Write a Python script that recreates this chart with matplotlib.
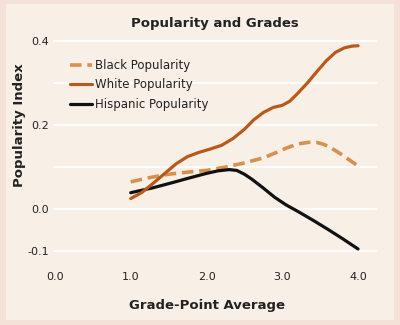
import matplotlib
matplotlib.use('Agg')
import matplotlib.pyplot as plt
from matplotlib.patches import Rectangle

# values
gpa_white = [1.0, 1.15, 1.3, 1.45, 1.6, 1.75, 1.9, 2.05, 2.2, 2.35, 2.5, 2.62,
             2.75, 2.88, 3.0, 3.1, 3.2, 3.33, 3.45, 3.58, 3.7, 3.82, 3.92, 4.0]
white_pop = [0.025, 0.04, 0.062, 0.085, 0.108, 0.125, 0.135, 0.143, 0.152, 0.168, 0.19, 0.212,
             0.23, 0.242, 0.247, 0.257, 0.275, 0.30, 0.326, 0.353, 0.373, 0.384, 0.388, 0.389]

gpa_black = [1.0, 1.25, 1.5, 1.75, 2.0, 2.25, 2.5, 2.75, 2.9, 3.05, 3.2, 3.35,
             3.45, 3.55, 3.65, 3.8, 3.9, 4.0]
black_pop = [0.065, 0.075, 0.083, 0.088, 0.092, 0.1, 0.11, 0.122, 0.133, 0.145, 0.155, 0.159,
             0.159, 0.154, 0.145, 0.128, 0.115, 0.103]

gpa_hisp = [1.0, 1.3, 1.55, 1.75, 2.0, 2.15, 2.3, 2.4, 2.5, 2.6, 2.75, 2.9,
            3.05, 3.2, 3.4, 3.6, 3.8, 4.0]
hisp_pop = [0.039, 0.051, 0.063, 0.073, 0.085, 0.091, 0.094, 0.092, 0.083, 0.071, 0.05, 0.028,
            0.01, -0.005, -0.026, -0.048, -0.071, -0.095]

x_ticks = [0.0, 1.0, 2.0, 3.0, 4.0]
y_grid = [-0.1, 0.0, 0.1, 0.2, 0.3, 0.4]
y_labels = ['-0.1', '0.0', '', '0.2', '', '0.4']

outer = '#f4e1d7'
inner = '#f8efe7'

plt.rcParams['font.family'] = 'DejaVu Sans'
fig = plt.figure(figsize=(4, 3.25), dpi=100)
fig.patch.set_facecolor(outer)
fig.patches.append(Rectangle((6 / 400, 1 - 320 / 325), 388 / 400, 316 / 325,
                             transform=fig.transFigure, facecolor=inner,
                             edgecolor='none', zorder=-5))

ax = fig.add_axes([53 / 400, 1 - 262 / 325, 324 / 400, 223 / 325])
ax.set_facecolor('none')
for y in y_grid:
    ax.axhline(y, color='white', lw=1.2, zorder=1)

ax.plot(gpa_black, black_pop, color='#d6914f', lw=2.6, dashes=(3.2, 1.6),
        label='Black Popularity', zorder=3)
ax.plot(gpa_white, white_pop, color='#b9591a', lw=2.3, solid_capstyle='round',
        solid_joinstyle='round', label='White Popularity', zorder=4)
ax.plot(gpa_hisp, hisp_pop, color='#111111', lw=2.3, solid_capstyle='round',
        solid_joinstyle='round', label='Hispanic Popularity', zorder=3)

ax.set_xlim(-0.026, 4.25)
ax.set_ylim(-0.126, 0.405)
ax.set_xticks(x_ticks)
ax.set_xticklabels([f'{v:.1f}' for v in x_ticks])
ax.set_yticks(y_grid)
ax.set_yticklabels(y_labels)
ax.tick_params(length=0, labelsize=8, colors='#222222')
ax.tick_params(axis='x', pad=7)
ax.tick_params(axis='y', pad=3)
for s in ax.spines.values():
    s.set_visible(False)

leg = ax.legend(loc='upper left', bbox_to_anchor=(70 / 400, 1 - 59 / 325),
                bbox_transform=fig.transFigure, frameon=False, fontsize=8.5,
                handlelength=1.9, handletextpad=0.25, labelspacing=0.55,
                borderpad=0, borderaxespad=0)
for t in leg.get_texts():
    t.set_color('#222222')

fig.text(215 / 400, 1 - 24 / 325, 'Popularity and Grades', ha='center',
         va='center', fontsize=9.5, fontweight='bold', color='#222222')
fig.text(20 / 400, 1 - 125 / 325, 'Popularity Index', ha='center', va='center',
         rotation=90, fontsize=9.5, fontweight='bold', color='#222222')
fig.text(207 / 400, 1 - 305 / 325, 'Grade-Point Average', ha='center',
         va='center', fontsize=9.5, fontweight='bold', color='#222222')

fig.savefig('out.png', dpi=100, facecolor=outer)
